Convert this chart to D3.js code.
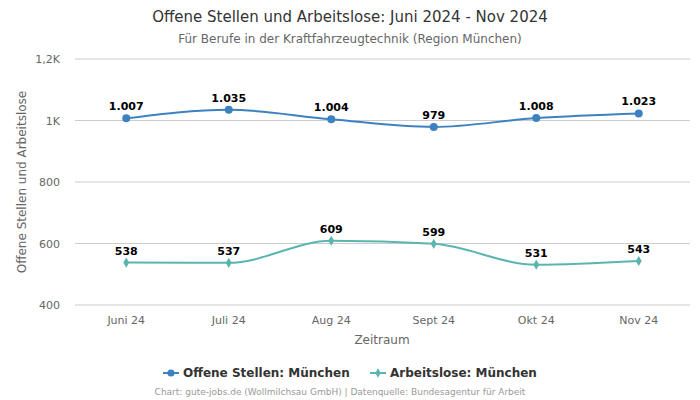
<!DOCTYPE html>
<html><head><meta charset="utf-8">
<script src="https://cdn.jsdelivr.net/npm/d3@7"></script>
<style>body{margin:0;background:#fff;font-family:"DejaVu Sans",sans-serif}</style>
</head><body><svg id="c" width="700" height="400"></svg>
<script>
const categories = ["Juni 24","Juli 24","Aug 24","Sept 24","Okt 24","Nov 24"];
const offeneStellen = [1007,1035,1004,979,1008,1023];
const arbeitslose = [538,537,609,599,531,543];
const yTicks = [400,600,800,1000,1200];
const yTickLabels = ["400","600","800","1K","1,2K"];

(function(){
const svg = d3.select("#c");
const pL=75,pR=690,pT=59,pB=305;
const x = d3.scaleBand().domain(categories).range([pL,pR]);
const y = d3.scaleLinear().domain([400,1200]).range([pB,pT]);
const cx = d => x(d)+x.bandwidth()/2;
const fmt = v => v>=1000 ? d3.format(",")(v).replace(",",".") : String(v);

svg.append("text").attr("x",350).attr("y",22).attr("text-anchor","middle").attr("font-size",15).attr("fill","#333").text("Offene Stellen und Arbeitslose: Juni 2024 - Nov 2024");
svg.append("text").attr("x",350).attr("y",43).attr("text-anchor","middle").attr("font-size",12).attr("fill","#666").text("Für Berufe in der Kraftfahrzeugtechnik (Region München)");

svg.append("g").selectAll("line").data(yTicks).join("line")
 .attr("x1",pL).attr("x2",pR).attr("y1",d=>y(d)).attr("y2",d=>y(d)).attr("stroke","#ccc").attr("stroke-width",1);
svg.append("g").selectAll("text").data(yTicks).join("text")
 .attr("x",60).attr("y",d=>y(d)+4).attr("text-anchor","end").attr("font-size",11).attr("fill","#666").text((d,i)=>yTickLabels[i]);
svg.append("g").selectAll("text").data(categories).join("text")
 .attr("x",d=>cx(d)).attr("y",324).attr("text-anchor","middle").attr("font-size",11).attr("fill","#666").text(d=>d);
svg.append("text").attr("x",382).attr("y",344).attr("text-anchor","middle").attr("font-size",12).attr("fill","#666").text("Zeitraum");
svg.append("text").attr("transform","translate(26,182) rotate(-90)").attr("text-anchor","middle").attr("font-size",12).attr("fill","#666").text("Offene Stellen und Arbeitslose");

const line = d3.line().x((d,i)=>cx(categories[i])).y(d=>y(d)).curve(d3.curveMonotoneX);
const series = [
 {name:"Offene Stellen: München", data:offeneStellen, color:"#3d82c0", marker:"circle"},
 {name:"Arbeitslose: München", data:arbeitslose, color:"#5bb5ae", marker:"diamond"}
];
series.forEach(s=>{
 svg.append("path").attr("d",line(s.data)).attr("fill","none").attr("stroke",s.color).attr("stroke-width",2);
 const sym = s.marker==="circle"? d3.symbol(d3.symbolCircle,50) : d3.symbol(d3.symbolDiamond,30);
 svg.append("g").selectAll("path").data(s.data).join("path")
  .attr("transform",(d,i)=>`translate(${cx(categories[i])},${y(d)})`).attr("d",sym).attr("fill",s.color);
 svg.append("g").selectAll("text").data(s.data).join("text")
  .attr("x",(d,i)=>cx(categories[i])).attr("y",d=>y(d)-8).attr("text-anchor","middle")
  .attr("font-size",11).attr("font-weight","bold").attr("fill","#000").text(fmt);
});

const lg = svg.append("g");
const items=[{s:series[0],x:163},{s:series[1],x:370}];
items.forEach(it=>{
 lg.append("line").attr("x1",it.x).attr("x2",it.x+16).attr("y1",373).attr("y2",373).attr("stroke",it.s.color).attr("stroke-width",2);
 const sym = it.s.marker==="circle"? d3.symbol(d3.symbolCircle,40) : d3.symbol(d3.symbolDiamond,25);
 lg.append("path").attr("transform",`translate(${it.x+8},373)`).attr("d",sym).attr("fill",it.s.color);
 lg.append("text").attr("x",it.x+20).attr("y",377).attr("font-size",12).attr("font-weight","bold").attr("fill","#333").text(it.s.name);
});
svg.append("text").attr("x",340).attr("y",395).attr("text-anchor","middle").attr("font-size",9).attr("fill","#999").text("Chart: gute-jobs.de (Wollmilchsau GmbH) | Datenquelle: Bundesagentur für Arbeit");
})();
</script></body></html>
